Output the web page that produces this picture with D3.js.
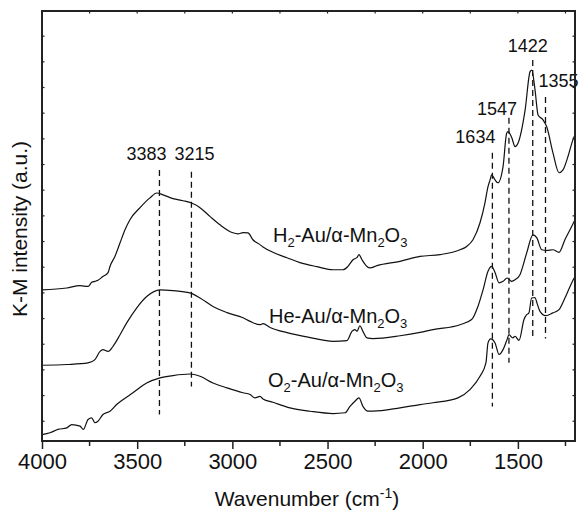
<!DOCTYPE html>
<html>
<head>
<meta charset="utf-8">
<script src="https://cdn.jsdelivr.net/npm/d3@7"></script>
<style>
  body { margin: 0; background: #fff; }
  text { font-family: "Liberation Sans", Arial, sans-serif; fill: #111; }
</style>
</head>
<body>
<div id="chart"></div>
<script>
// Spectra (wavenumber in cm-1, K-M intensity in a.u., curves stacked)
var h2Wn = [4000, 3870, 3800, 3758, 3739, 3722, 3706, 3680, 3653, 3643, 3617, 3590, 3564, 3538, 3485, 3433, 3397, 3364, 3312, 3259, 3214, 3170, 3118, 3065, 2997, 2970, 2944, 2918, 2892, 2855, 2839, 2787, 2713, 2645, 2555, 2471, 2419, 2393, 2366, 2345, 2335, 2319, 2293, 2277, 2240, 2119, 2014, 1909, 1804, 1769, 1736, 1699, 1673, 1657, 1646, 1638, 1620, 1605, 1578, 1559, 1552, 1532, 1515, 1499, 1462, 1436, 1427, 1410, 1394, 1368, 1349, 1316, 1284, 1263, 1237, 1211, 1200];
var h2Val = [5.12, 5.19, 5.28, 5.25, 5.41, 5.45, 5.49, 5.64, 5.79, 6.03, 6.42, 6.95, 7.46, 7.85, 8.32, 8.70, 8.89, 8.82, 8.67, 8.59, 8.50, 8.32, 7.98, 7.65, 7.34, 7.30, 7.35, 7.34, 7.07, 6.88, 6.79, 6.58, 6.37, 6.18, 6.02, 5.90, 5.90, 6.03, 6.29, 6.38, 6.49, 6.29, 6.03, 5.97, 6.06, 6.23, 6.42, 6.49, 6.68, 6.81, 7.07, 7.73, 8.51, 9.14, 9.40, 9.60, 9.40, 9.29, 9.92, 11.22, 11.28, 11.04, 10.70, 10.84, 12.13, 13.62, 13.68, 12.91, 11.93, 11.74, 11.48, 10.46, 9.68, 9.79, 10.31, 10.96, 11.16];

var heWn = [4000, 3870, 3758, 3722, 3695, 3680, 3653, 3627, 3590, 3555, 3503, 3450, 3380, 3312, 3223, 3170, 3102, 3028, 2944, 2907, 2855, 2839, 2802, 2713, 2592, 2471, 2398, 2372, 2356, 2345, 2330, 2314, 2293, 2261, 2119, 2014, 1946, 1804, 1743, 1710, 1683, 1657, 1638, 1620, 1599, 1578, 1557, 1533, 1515, 1489, 1454, 1421, 1401, 1375, 1349, 1316, 1284, 1253, 1226, 1200];
var heVal = [2.18, 2.21, 2.27, 2.40, 2.72, 2.79, 2.72, 2.92, 3.37, 3.83, 4.41, 4.86, 5.12, 5.09, 5.00, 4.80, 4.47, 4.23, 4.03, 3.89, 3.76, 3.80, 3.65, 3.45, 3.26, 3.11, 3.14, 3.50, 3.57, 3.50, 3.72, 3.50, 3.25, 3.22, 3.33, 3.46, 3.57, 3.76, 3.96, 4.47, 5.12, 5.84, 6.03, 5.79, 5.39, 5.45, 5.58, 5.45, 5.51, 5.71, 6.55, 7.26, 7.15, 6.68, 6.65, 6.68, 6.58, 7.07, 7.46, 7.85];

var o2Wn = [4000, 3958, 3916, 3870, 3844, 3800, 3783, 3758, 3739, 3722, 3706, 3680, 3643, 3608, 3575, 3522, 3450, 3380, 3312, 3223, 3170, 3102, 3028, 2944, 2907, 2881, 2855, 2839, 2787, 2697, 2592, 2471, 2408, 2382, 2356, 2335, 2314, 2288, 2261, 2119, 2014, 1946, 1815, 1752, 1699, 1668, 1657, 1643, 1620, 1599, 1578, 1557, 1547, 1527, 1515, 1494, 1468, 1454, 1442, 1428, 1410, 1400, 1384, 1354, 1316, 1284, 1253, 1226, 1205];
var o2Val = [-0.52, -0.45, -0.32, -0.26, -0.13, -0.19, -0.32, 0.07, 0.13, -0.06, 0.00, 0.26, 0.39, 0.65, 0.84, 1.11, 1.49, 1.69, 1.78, 1.84, 1.75, 1.49, 1.30, 1.11, 1.04, 0.91, 0.97, 0.87, 0.74, 0.52, 0.39, 0.30, 0.33, 0.58, 0.78, 0.91, 0.58, 0.39, 0.39, 0.52, 0.65, 0.72, 0.91, 1.23, 1.75, 2.27, 3.05, 3.21, 3.05, 2.60, 2.79, 3.18, 3.37, 3.25, 3.31, 3.15, 3.96, 4.15, 4.22, 4.80, 4.82, 4.61, 4.28, 4.11, 4.22, 4.35, 4.80, 5.25, 5.58];

// Peak markers (dashed lines) and their labels
var peakWn = [3383, 3215, 1634, 1547, 1422, 1355];
var peakTop = [9.79, 9.72, 10.46, 11.82, 14.07, 12.63];
var peakBottom = [0.26, 1.35, 0.57, 2.28, 3.30, 3.22];
var peakLabels = ["3383", "3215", "1634", "1547", "1422", "1355"];

var xTicks = [4000, 3500, 3000, 2500, 2000, 1500];

// Set up chart
var svgWidth = 580;
var svgHeight = 511;
var margin = { top: 11, right: 5, bottom: 70, left: 42 };
var width = svgWidth - margin.left - margin.right;
var height = svgHeight - margin.top - margin.bottom;

var svg = d3.select("#chart")
  .append("svg")
  .attr("width", svgWidth)
  .attr("height", svgHeight);

var chartGroup = svg.append("g")
  .attr("transform", `translate(${margin.left}, ${margin.top})`);

var xScale = d3.scaleLinear().domain([4000, 1200]).range([0, width]);
var yScale = d3.scaleLinear().domain([-0.77, 15.98]).range([height, 0]);

// Curves
var line = d3.line()
  .x(d => xScale(d[0]))
  .y(d => yScale(d[1]))
  .curve(d3.curveMonotoneX);

var clip = chartGroup.append("clipPath").attr("id", "plotClip")
  .append("rect").attr("width", width).attr("height", height);

[[h2Wn, h2Val], [heWn, heVal], [o2Wn, o2Val]].forEach(function(s) {
  chartGroup.append("path")
    .datum(d3.zip(s[0], s[1]))
    .attr("d", line)
    .attr("clip-path", "url(#plotClip)")
    .attr("fill", "none")
    .attr("stroke", "#111")
    .attr("stroke-width", 1.2);
});

// Dashed peak lines
chartGroup.selectAll(".peak")
  .data(peakWn)
  .enter()
  .append("line")
  .attr("x1", d => xScale(d))
  .attr("x2", d => xScale(d))
  .attr("y1", (d, i) => yScale(peakTop[i]))
  .attr("y2", (d, i) => yScale(peakBottom[i]))
  .attr("stroke", "#111")
  .attr("stroke-width", 1.3)
  .attr("stroke-dasharray", "6,4");

// Peak labels (offsets relative to the top of each dashed line)
var labelOffsets = [[-13, -10], [3, -12], [-17, -10], [-12, -3], [-5, -8], [13, -10]];
chartGroup.selectAll(".peakLabel")
  .data(peakLabels)
  .enter()
  .append("text")
  .attr("x", (d, i) => xScale(peakWn[i]) + labelOffsets[i][0])
  .attr("y", (d, i) => yScale(peakTop[i]) + labelOffsets[i][1])
  .attr("text-anchor", "middle")
  .style("font-size", "18px")
  .text(d => d);

// Series labels
function seriesLabel(x, y, gas, gasSub) {
  var t = chartGroup.append("text")
    .attr("x", x)
    .attr("y", y)
    .style("font-size", "20px");
  t.append("tspan").text(gas);
  if (gasSub) {
    t.append("tspan").attr("dy", 5).style("font-size", "13px").text(gasSub);
    t.append("tspan").attr("dy", -5).text("-Au/\u03b1-Mn");
  } else {
    t.append("tspan").text("-Au/\u03b1-Mn");
  }
  t.append("tspan").attr("dy", 5).style("font-size", "13px").text("2");
  t.append("tspan").attr("dy", -5).text("O");
  t.append("tspan").attr("dy", 5).style("font-size", "13px").text("3");
}
seriesLabel(231, 231, "H", "2");
seriesLabel(227, 312, "He", null);
seriesLabel(226, 376, "O", "2");

// Frame
chartGroup.append("rect")
  .attr("width", width)
  .attr("height", height)
  .attr("fill", "none")
  .attr("stroke", "#222")
  .attr("stroke-width", 2);

// Bottom axis: ticks outward, labelled every 500
var bottomAxis = d3.axisBottom(xScale)
  .tickValues(xTicks)
  .tickSize(8)
  .tickPadding(4)
  .tickFormat(d3.format("d"));

var xAxis = chartGroup.append("g")
  .attr("transform", `translate(0, ${height})`)
  .call(bottomAxis);
xAxis.select(".domain").remove();
xAxis.selectAll("line").attr("stroke", "#222").attr("stroke-width", 1.5);
xAxis.selectAll("text").style("font-size", "22px").attr("fill", "#111");

// minor bottom ticks
chartGroup.append("g")
  .attr("transform", `translate(0, ${height})`)
  .selectAll("line")
  .data(d3.range(3750, 1200, -500))
  .enter()
  .append("line")
  .attr("x1", d => xScale(d)).attr("x2", d => xScale(d))
  .attr("y1", 0).attr("y2", 5)
  .attr("stroke", "#222").attr("stroke-width", 1.5);

// top ticks (short, inward)
chartGroup.append("g")
  .selectAll("line")
  .data(d3.range(3750, 1200, -250))
  .enter()
  .append("line")
  .attr("x1", d => xScale(d)).attr("x2", d => xScale(d))
  .attr("y1", 0).attr("y2", 2.5)
  .attr("stroke", "#222").attr("stroke-width", 1.2);

// left and right ticks (short, inward, no labels)
var yTicks = d3.range(0, 16);
chartGroup.append("g")
  .selectAll("line")
  .data(yTicks)
  .enter()
  .append("line")
  .attr("x1", 0).attr("x2", 2.5)
  .attr("y1", d => yScale(d)).attr("y2", d => yScale(d))
  .attr("stroke", "#222").attr("stroke-width", 1.2);
chartGroup.append("g")
  .selectAll("line")
  .data(yTicks)
  .enter()
  .append("line")
  .attr("x1", width).attr("x2", width - 2.5)
  .attr("y1", d => yScale(d)).attr("y2", d => yScale(d))
  .attr("stroke", "#222").attr("stroke-width", 1.2);

// Axis titles
var xTitle = svg.append("text")
  .attr("x", 307)
  .attr("y", 506)
  .attr("text-anchor", "middle")
  .style("font-size", "21px");
xTitle.append("tspan").text("Wavenumber (cm");
xTitle.append("tspan").attr("dy", -8).style("font-size", "14px").text("-1");
xTitle.append("tspan").attr("dy", 8).text(")");

svg.append("text")
  .attr("transform", "rotate(-90)")
  .attr("x", -229)
  .attr("y", 27)
  .attr("text-anchor", "middle")
  .style("font-size", "21px")
  .text("K-M intensity (a.u.)");
</script>
</body>
</html>
